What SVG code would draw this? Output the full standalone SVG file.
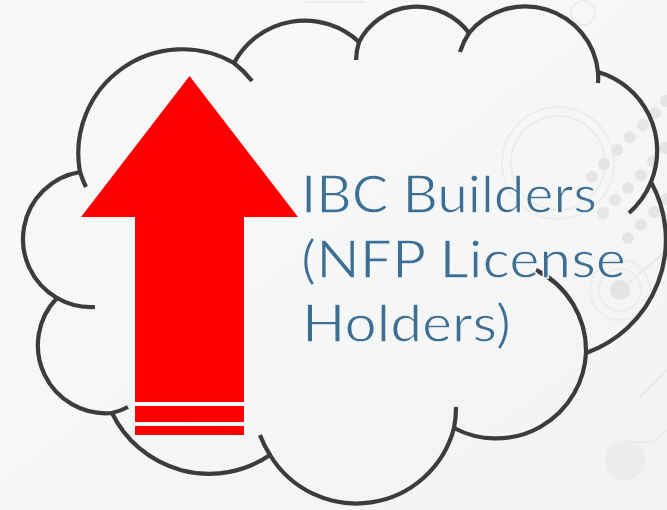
<svg xmlns="http://www.w3.org/2000/svg" width="667" height="510" viewBox="0 0 667 510">
  <defs>
    <linearGradient id="bg" x1="0" y1="0" x2="1" y2="1">
      <stop offset="0" stop-color="#f9f9f9"/>
      <stop offset="0.6" stop-color="#f5f6f6"/>
      <stop offset="1" stop-color="#f1f2f3"/>
    </linearGradient>
    <style>
      .cloud { fill: none; stroke: #3c3c3c; stroke-width: 4.2; stroke-linecap: butt; stroke-linejoin: miter; }
      .ring { fill: none; stroke: #e9eaeb; stroke-width: 1.4; }
      .dot { fill: #e4e5e7; }
      .trace { fill: none; stroke: #e6e7e8; stroke-width: 1.6; }
      .arrow { fill: #ff0000; }
      .label { font-family: "Century Gothic", Lato, "Open Sans", sans-serif; font-size: 53px; fill: #3d6f94;
               stroke: #f6f6f6; stroke-width: 1.3px; paint-order: fill; }
    </style>
  </defs>

  <!-- backdrop -->
  <rect width="667" height="510" fill="url(#bg)"/>
  <g id="backdrop">
    <circle class="ring" cx="558" cy="163" r="56"/>
    <circle class="ring" cx="558" cy="163" r="47"/>
    <circle class="ring" cx="583" cy="13" r="12"/>
    <path class="trace" d="M305 2 H365"/>
    <!-- dotted diagonals -->
    <g class="dot">
      <circle cx="592" cy="177" r="6"/><circle cx="604" cy="164" r="6"/><circle cx="617" cy="150" r="6"/>
      <circle cx="630" cy="137" r="6"/><circle cx="643" cy="125" r="6"/><circle cx="655" cy="113" r="6"/>
      <circle cx="666" cy="101" r="6"/>
      <circle cx="603" cy="213" r="6"/><circle cx="615" cy="200" r="6"/><circle cx="628" cy="188" r="6"/>
      <circle cx="641" cy="175" r="6"/><circle cx="653" cy="161" r="6"/><circle cx="665" cy="148" r="6"/>
      <circle cx="628" cy="238" r="6"/><circle cx="641" cy="225" r="6"/><circle cx="654" cy="212" r="6"/>
      <circle cx="666" cy="199" r="6"/>
    </g>
    <!-- target and traces -->
    <circle cx="620" cy="290" r="10" fill="#e3e4e6"/>
    <circle class="ring" cx="620" cy="290" r="21"/>
    <circle class="ring" cx="620" cy="290" r="30"/>
    <path class="trace" d="M620 290 L667 250"/>
    <path class="trace" d="M640 397 L667 370"/>
    <path class="trace" d="M620 442 H653 L667 430"/>
    <circle cx="625" cy="460" r="20" fill="#ececed"/>
  </g>

  <!-- up arrow -->
  <g id="arrow">
    <polygon class="arrow" points="189.5,76 298,217 244,217 244,402 135,402 135,217 81,217"/>
    <rect class="arrow" x="135" y="406" width="109" height="16"/>
    <rect class="arrow" x="135" y="426" width="109" height="9"/>
  </g>

  <!-- cloud -->
  <g id="cloud">
    <path class="cloud" d="M80 172
      A104 104 0 0 1 234 63
      A80 80 0 0 1 359 42
      A65 65 0 0 1 469 33
      A73 73 0 0 1 598 72
      A82 82 0 0 1 651 182
      A120 120 0 0 1 586 353
      A90 90 0 0 1 454 428
      A101 101 0 0 1 270 455
      A108 108 0 0 1 112 413
      A68 68 0 0 1 57 298
      A68 68 0 0 1 80 172 Z"/>
    <path class="cloud" d="
      M80 172 A104 104 0 0 0 86 187
      M234 63 A104 104 0 0 1 252 81
      M359 42 A65 65 0 0 0 356 60
      M469 33 A73 73 0 0 0 460 52
      M598 72 A73 73 0 0 1 598 83
      M651 182 A82 82 0 0 1 629 213
      M586 353 A90 90 0 0 0 536 270
      M454 428 A101 101 0 0 0 456 407
      M270 455 A101 101 0 0 1 260 435
      M112 413 A68 68 0 0 0 128 407
      M57 298 A68 68 0 0 0 95 307"/>
  </g>

  <!-- label -->
  <g id="label">
    <text class="label" x="301" y="213" textLength="296" lengthAdjust="spacingAndGlyphs">IBC Builders</text>
    <text class="label" x="301" y="278" textLength="325" lengthAdjust="spacingAndGlyphs">(NFP License</text>
    <text class="label" x="302" y="342" textLength="209" lengthAdjust="spacingAndGlyphs">Holders)</text>
  </g>
</svg>
